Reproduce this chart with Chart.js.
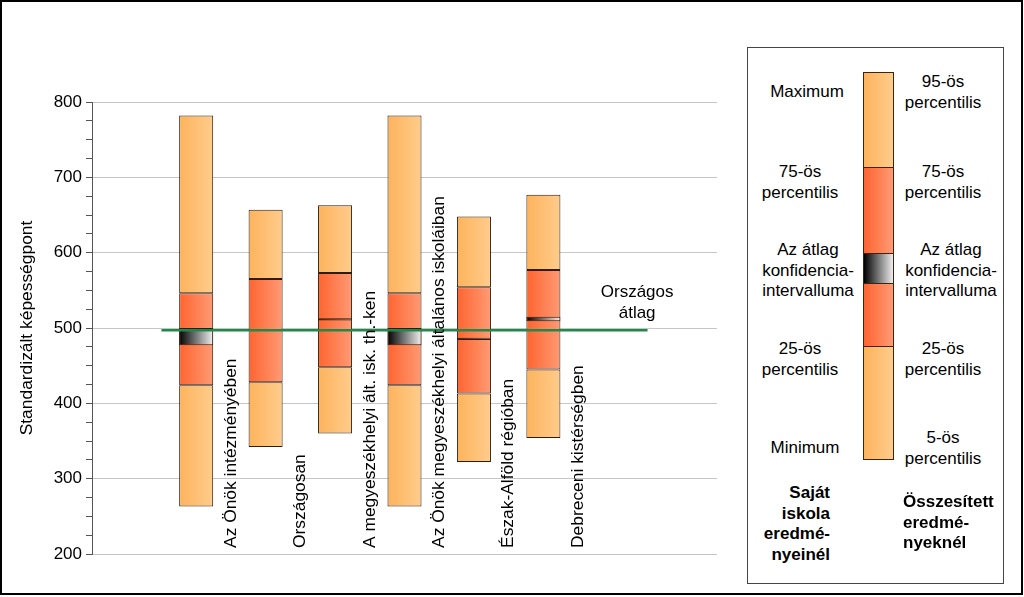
<!DOCTYPE html>
<html>
<head>
<meta charset="utf-8">
<script src="https://cdn.jsdelivr.net/npm/chart.js@4"></script>
<style>
  body { margin: 0; background: #fff; font-family: 'Liberation Sans', Arial, sans-serif; }
  #wrap { position: relative; width: 1024px; height: 597px; overflow: hidden; }
  #frame { position: absolute; left: 0; top: 0; width: 1023px; height: 595px; border: 2px solid #000; box-sizing: border-box; }
  #chartBox { position: absolute; left: 0; top: 0; width: 740px; height: 597px; }
  #legendBox { position: absolute; left: 747px; top: 47px; width: 257px; height: 537px; border: 1px solid #444; box-sizing: border-box; }
  .lt { position: absolute; font-size: 17px; line-height: 20.5px; color: #000; white-space: nowrap; }
  .c { transform: translateX(-50%); text-align: center; }
  .b { font-weight: bold; }
  .seg { position: absolute; left: 863px; width: 31px; border: 1px solid #3a2414; box-sizing: border-box; }
  .light { background: linear-gradient(to right, #fdb35c, #ffcc8c); }
  .dark { background: linear-gradient(to right, #ff6430, #ff9a74); }
  .ci { background: linear-gradient(to right, #000, #eee); }
</style>
</head>
<body>
<div id="wrap">
  <div id="chartBox"><canvas id="boxChart" width="740" height="597"></canvas></div>
  <div id="legendBox"></div>
  <div class="seg light" style="top:72px;height:96px"></div>
  <div class="seg dark" style="top:167px;height:87px"></div>
  <div class="seg ci" style="top:253px;height:31px"></div>
  <div class="seg dark" style="top:283px;height:64px"></div>
  <div class="seg light" style="top:346px;height:114px"></div>

  <div class="lt c" style="left:807px;top:82px">Maximum</div>
  <div class="lt c" style="left:943px;top:72px">95-ös<br>percentilis</div>
  <div class="lt c" style="left:800px;top:162px">75-ös<br>percentilis</div>
  <div class="lt c" style="left:943px;top:162px">75-ös<br>percentilis</div>
  <div class="lt c" style="left:808px;top:240px">Az átlag<br>konfidencia-<br>intervalluma</div>
  <div class="lt c" style="left:951px;top:240px">Az átlag<br>konfidencia-<br>intervalluma</div>
  <div class="lt c" style="left:800px;top:339px">25-ös<br>percentilis</div>
  <div class="lt c" style="left:943px;top:339px">25-ös<br>percentilis</div>
  <div class="lt c" style="left:805px;top:438px">Minimum</div>
  <div class="lt c" style="left:943px;top:428px">5-ös<br>percentilis</div>
  <div class="lt b" style="right:194px;top:483px;text-align:right">Saját<br>iskola<br>eredmé-<br>nyeinél</div>
  <div class="lt b" style="left:903px;top:492px">Összesített<br>eredmé-<br>nyeknél</div>

  <div id="frame"></div>
</div>
<script>
// categories (empty slots keep the Excel-like spacing)
const labels = ['', 'Az Önök intézményében', 'Országosan', 'A megyeszékhelyi ált. isk. th.-ken',
  'Az Önök megyeszékhelyi általános iskoláiban', 'Észak-Alföld régióban', 'Debreceni kistérségben', '', ''];

const minimum = [null, 263, 342, 360, 263, 322, 354, null, null];
const p25     = [null, 424, 428, 448, 424, 413, 445, null, null];
const ciLow   = [null, 477, 496, 510, 477, 484, 509, null, null];
const ciHigh  = [null, 500, 498, 513, 500, 487, 515, null, null];
const p75     = [null, 546, 565, 573, 546, 554, 577, null, null];
const maximum = [null, 782, 657, 663, 782, 648, 677, null, null];

const nationalAvg = 497;
const avgLabel = ['Országos', 'átlag'];

const BAR_PCT = 0.49;
const FONT = "'Liberation Sans', Arial, sans-serif";

function range(lo, hi) {
  return lo.map((v, i) => v == null ? null : [v, hi[i]]);
}

// horizontal gradient across each bar
function hGrad(c0, c1) {
  return (ctx) => {
    const chart = ctx.chart;
    const xs = chart.scales && chart.scales.x;
    if (!xs || !chart.chartArea || ctx.type !== 'data') return c0;
    const cx = xs.getPixelForValue(ctx.dataIndex);
    const half = xs.width / labels.length * BAR_PCT / 2;
    if (!isFinite(cx) || !isFinite(half)) return c0;
    const g = chart.ctx.createLinearGradient(cx - half, 0, cx + half, 0);
    g.addColorStop(0, c0);
    g.addColorStop(1, c1);
    return g;
  };
}

const barBase = {
  type: 'bar',
  grouped: false,
  borderWidth: 1,
  borderColor: '#2e1c0e',
  borderSkipped: false,
  barPercentage: BAR_PCT,
  categoryPercentage: 1,
  xAxisID: 'x',
  yAxisID: 'y'
};

// category names + "Országos átlag" text
const textPlugin = {
  id: 'texts',
  afterDraw(chart) {
    const {ctx, scales: {x, y, xl}} = chart;
    ctx.save();
    ctx.fillStyle = '#000';
    ctx.font = '17.4px ' + FONT;
    const step = x.width / labels.length;
    labels.forEach((lab, i) => {
      if (!lab) return;
      ctx.save();
      ctx.translate(x.getPixelForValue(i) + step / 2, y.getPixelForValue(208));
      ctx.rotate(-Math.PI / 2);
      ctx.textAlign = 'left';
      ctx.textBaseline = 'middle';
      ctx.fillText(lab, 0, 0);
      ctx.restore();
    });
    ctx.font = '17px ' + FONT;
    ctx.textAlign = 'center';
    ctx.textBaseline = 'middle';
    ctx.fillText(avgLabel[0], xl.getPixelForValue(7.35), y.getPixelForValue(547));
    ctx.fillText(avgLabel[1], xl.getPixelForValue(7.35), y.getPixelForValue(520));
    ctx.restore();
  }
};

const chart = new Chart(document.getElementById('boxChart'), {
  data: {
    labels: labels,
    datasets: [
      {type: 'line', label: 'Országos átlag', data: [{x: 0.5, y: nationalAvg}, {x: 7.5, y: nationalAvg}],
        xAxisID: 'xl', yAxisID: 'y', borderColor: '#23874b', borderWidth: 2.5, pointRadius: 0, order: 0},
      {...barBase, label: 'CI', data: range(ciLow, ciHigh), backgroundColor: hGrad('#000000', '#f0f0f0'), order: 1},
      {...barBase, label: 'p75-max', data: range(p75, maximum), backgroundColor: hGrad('#fdb35c', '#ffcc8c'), order: 2},
      {...barBase, label: 'p25-p75', data: range(p25, p75), backgroundColor: hGrad('#ff6430', '#ff9a74'), order: 3},
      {...barBase, label: 'min-p25', data: range(minimum, p25), backgroundColor: hGrad('#fdb35c', '#ffcc8c'), order: 4}
    ]
  },
  options: {
    responsive: false,
    animation: false,
    layout: {padding: {top: 102, bottom: 43, left: 0, right: 23}},
    plugins: {legend: {display: false}, tooltip: {enabled: false}},
    scales: {
      x: {
        type: 'category',
        ticks: {display: false},
        grid: {display: false},
        border: {display: false},
        afterFit: (s) => { s.height = 0; }
      },
      xl: {type: 'linear', min: -0.5, max: 8.5, display: false},
      y: {
        min: 200,
        max: 800,
        stacked: false,
        afterFit: (s) => { s.width = 92; },
        ticks: {
          stepSize: 25,
          autoSkip: false,
          color: '#000',
          font: {family: FONT, size: 17},
          padding: 4,
          callback: (v) => v % 100 === 0 ? v : ''
        },
        grid: {
          color: (c) => c.tick && c.tick.value % 100 === 0 ? '#c6c6c6' : 'rgba(0,0,0,0)',
          tickColor: '#555',
          tickLength: 6,
          lineWidth: 1
        },
        border: {color: '#555', width: 1},
        title: {
          display: true,
          text: 'Standardizált képességpont',
          color: '#000',
          font: {family: FONT, size: 17.4},
          padding: {top: 16.5, bottom: 0}
        }
      }
    }
  },
  plugins: [textPlugin]
});
chart.update();
</script>
</body>
</html>
